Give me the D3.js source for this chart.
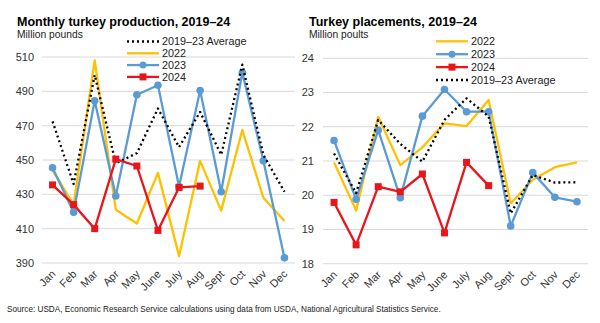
<!DOCTYPE html>
<html>
<head>
<meta charset="utf-8">
<script src="https://cdn.jsdelivr.net/npm/d3@7"></script>
<style>
  body { margin: 0; background: #fff; }
  svg { font-family: "Liberation Sans", Arial, sans-serif; }
</style>
</head>
<body>
<div id="chart"></div>
<script>
const MONTHS = ["Jan", "Feb", "Mar", "Apr", "May", "June", "July", "Aug", "Sept", "Oct", "Nov", "Dec"]

// Monthly turkey production, million pounds
const prod2022 = [444, 424, 508, 421, 413, 442.5, 394, 449.5, 420.5, 467.5, 428, 414.5]
const prod2023 = [445.5, 419.5, 484.5, 429, 488, 493.5, 434.5, 490.5, 431.5, 501, 449.5, 393]
const prod2024 = [435.5, 424, 410, 450.5, 446.5, 409, 434, 434.8]
const prodAvg = [472.5, 436, 499.5, 448, 454, 480, 457.5, 478, 453, 505.5, 453, 431.5]
const prodTicks = [390, 410, 430, 450, 470, 490, 510]

// Turkey placements, million poults
const place2022 = [20.96, 19.55, 22.29, 20.88, 21.4, 22.1, 22.02, 22.78, 19.76, 20.45, 20.82, 20.96]
const place2023 = [21.6, 19.88, 21.9, 19.93, 22.31, 23.09, 22.44, 22.44, 19.1, 20.66, 19.94, 19.81]
const place2024 = [19.79, 18.55, 20.25, 20.1, 20.62, 18.9, 20.96, 20.28]
const placeAvg = [21.22, 20.06, 22.2, 21.5, 20.98, 22.2, 22.83, 22.3, 19.47, 20.59, 20.37, 20.38]
const placeTicks = [18, 19, 20, 21, 22, 23, 24]

const YELLOW = "#FFC000"
const BLUE = "#5B9BD5"
const RED = "#E8161B"

const W = 600, H = 323
const svg = d3.select("#chart").append("svg").attr("width", W).attr("height", H)

function panel(opts) {
  const x = d3.scaleBand().domain(MONTHS).range([opts.x0, opts.x1])
  const y = d3.scaleLinear().domain(opts.domain).range([opts.yBottom, opts.yTop])
  const g = svg.append("g")

  g.append("text").attr("x", opts.titleX).attr("y", 26)
    .attr("font-size", 12.5).attr("font-weight", "bold").attr("fill", "#000")
    .text(opts.title)
  g.append("text").attr("x", opts.titleX).attr("y", 38)
    .attr("font-size", 10.3).attr("fill", "#222")
    .text(opts.unit)

  // gridlines
  g.selectAll(".grid").data(opts.ticks).enter().append("line")
    .attr("x1", opts.x0).attr("x2", opts.x1)
    .attr("y1", d => y(d)).attr("y2", d => y(d))
    .attr("stroke", "#d9d9d9").attr("stroke-width", 1)

  g.selectAll(".ytick").data(opts.ticks).enter().append("text")
    .attr("x", opts.labelX).attr("y", d => y(d)).attr("dy", "0.35em")
    .attr("text-anchor", "end").attr("font-size", 11).attr("fill", "#333")
    .text(d => d)

  g.selectAll(".xtick").data(MONTHS).enter().append("text")
    .attr("transform", d => `translate(${x(d) + x.bandwidth() / 2 + 1},${opts.yBottom + 9}) rotate(-45)`)
    .attr("text-anchor", "end").attr("dy", "0.35em")
    .attr("font-size", 11).attr("fill", "#333")
    .text(d => d)

  const cx = (d, i) => x(MONTHS[i]) + x.bandwidth() / 2
  const line = d3.line().x(cx).y(d => y(d))

  for (const s of opts.series) {
    g.append("path").datum(s.values)
      .attr("d", line).attr("fill", "none")
      .attr("stroke", s.color).attr("stroke-width", 2.3)
      .attr("stroke-dasharray", s.dotted ? "2,3" : null)
      .attr("stroke-linejoin", "round")
    if (s.marker === "circle") {
      g.selectAll(null).data(s.values).enter().append("circle")
        .attr("cx", cx).attr("cy", d => y(d)).attr("r", 3.8).attr("fill", s.color)
    } else if (s.marker === "square") {
      g.selectAll(null).data(s.values).enter().append("rect")
        .attr("x", (d, i) => cx(d, i) - 3.5).attr("y", d => y(d) - 3.5)
        .attr("width", 7).attr("height", 7).attr("fill", s.color)
    }
  }

  // legend
  opts.legend.forEach((s, i) => {
    const ly = opts.legendY + i * opts.legendStep
    const lg = g.append("g")
    lg.append("line").attr("x1", opts.legendX).attr("x2", opts.legendX + 32)
      .attr("y1", ly).attr("y2", ly)
      .attr("stroke", s.color).attr("stroke-width", 2.3)
      .attr("stroke-dasharray", s.dotted ? "2,3" : null)
    if (s.marker === "circle") {
      lg.append("circle").attr("cx", opts.legendX + 16).attr("cy", ly).attr("r", 3.5).attr("fill", s.color)
    } else if (s.marker === "square") {
      lg.append("rect").attr("x", opts.legendX + 12.5).attr("y", ly - 3.5)
        .attr("width", 7).attr("height", 7).attr("fill", s.color)
    }
    lg.append("text").attr("x", opts.legendX + 35).attr("y", ly).attr("dy", "0.35em")
      .attr("font-size", 10.8).attr("fill", "#222").text(s.name)
  })
}

const sAvgP = { name: "2019–23 Average", values: prodAvg, color: "#000", dotted: true }
const s22P = { name: "2022", values: prod2022, color: YELLOW }
const s23P = { name: "2023", values: prod2023, color: BLUE, marker: "circle" }
const s24P = { name: "2024", values: prod2024, color: RED, marker: "square" }

panel({
  title: "Monthly turkey production, 2019–24",
  unit: "Million pounds",
  titleX: 17,
  x0: 42, x1: 295,
  yTop: 57, yBottom: 263,
  domain: [390, 510],
  ticks: prodTicks,
  labelX: 34,
  series: [s22P, s23P, sAvgP, s24P],
  legend: [sAvgP, s22P, s23P, s24P],
  legendX: 127, legendY: 41.5, legendStep: 11.8
})

const s22L = { name: "2022", values: place2022, color: YELLOW }
const s23L = { name: "2023", values: place2023, color: BLUE, marker: "circle" }
const s24L = { name: "2024", values: place2024, color: RED, marker: "square" }
const sAvgL = { name: "2019–23 Average", values: placeAvg, color: "#000", dotted: true }

panel({
  title: "Turkey placements, 2019–24",
  unit: "Million poults",
  titleX: 309,
  x0: 323, x1: 588,
  yTop: 58.3, yBottom: 263.7,
  domain: [18, 24],
  ticks: placeTicks,
  labelX: 314,
  series: [s22L, s23L, sAvgL, s24L],
  legend: [s22L, s23L, s24L, sAvgL],
  legendX: 436, legendY: 41.3, legendStep: 12.9
})

svg.append("text").attr("x", 7).attr("y", 312)
  .attr("font-size", 8.2).attr("fill", "#222")
  .text("Source: USDA, Economic Research Service calculations using data from USDA, National Agricultural Statistics Service.")
</script>
</body>
</html>
